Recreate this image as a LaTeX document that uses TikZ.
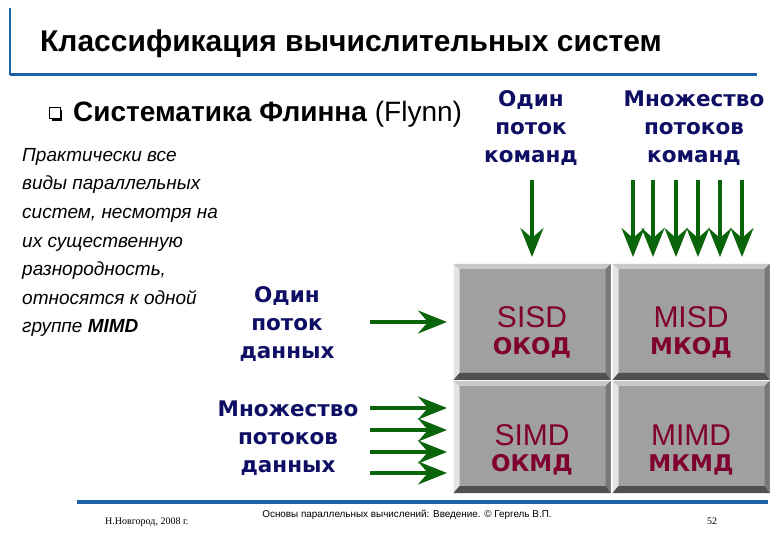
\documentclass[tikz,border=0pt]{standalone}
\usepackage{fontspec}
\setmainfont{Liberation Sans}
\newfontfamily\widefont{DejaVu Sans}
\newfontfamily\seriffont{Liberation Serif}
\usetikzlibrary{arrows.meta}
\definecolor{navy}{RGB}{14,14,100}
\definecolor{arrgreen}{RGB}{10,100,10}
\definecolor{cellfill}{RGB}{160,160,160}
\definecolor{bevtop}{RGB}{200,200,200}
\definecolor{bevleft}{RGB}{228,228,228}
\definecolor{bevright}{RGB}{120,120,120}
\definecolor{bevbot}{RGB}{80,80,80}
\definecolor{cellred}{RGB}{128,0,48}
\definecolor{lineblue}{RGB}{28,98,168}
\tikzset{
  cell/.style={rectangle, fill=cellfill, inner sep=0pt, minimum width=157pt,
    path picture={
      \coordinate (pNW) at (path picture bounding box.north west);
      \coordinate (pSE) at (path picture bounding box.south east);
      \coordinate (pNE) at (path picture bounding box.north east);
      \coordinate (pSW) at (path picture bounding box.south west);
      \fill[bevtop] (pNW) -- (pNE) -- ([xshift=-5pt,yshift=-5pt]pNE) -- ([xshift=6pt,yshift=-5pt]pNW) -- cycle;
      \fill[bevleft] (pNW) -- ([xshift=6pt,yshift=-5pt]pNW) -- ([xshift=6pt,yshift=7pt]pSW) -- (pSW) -- cycle;
      \fill[bevright] (pNE) -- (pSE) -- ([xshift=-5pt,yshift=7pt]pSE) -- ([xshift=-5pt,yshift=-5pt]pNE) -- cycle;
      \fill[bevbot] (pSW) -- (pSE) -- ([xshift=-5pt,yshift=7pt]pSE) -- ([xshift=6pt,yshift=7pt]pSW) -- cycle;
    }},
  celltop/.style={anchor=base, inner sep=0pt, text=cellred, font=\fontsize{30}{32}\selectfont},
  cellbot/.style={anchor=base, inner sep=0pt, text=cellred, font=\widefont\bfseries\fontsize{23}{25}\selectfont},
  navylabel/.style={anchor=base, inner sep=0pt, align=center, text=navy, font=\widefont\bfseries\fontsize{21.5}{28}\selectfont},
  flow/.style={draw=arrgreen, line width=4pt, -{Stealth[length=29pt, width=23pt, inset=10pt, fill=arrgreen]}},
  rule/.style={draw=lineblue, line width=3pt},
}
\begin{document}
\begin{tikzpicture}[x=1pt, y=-1pt]
\useasboundingbox[fill=white] (0,0) rectangle (780,540);

% header rules
\coordinate (hl0) at (10,8);
\coordinate (hl1) at (10,75);
\coordinate (hl2) at (757,75);
\draw[rule, line width=2.5pt] (hl0) -- (hl1);
\draw[rule] (hl1) -- (hl2);
\node[anchor=base west, inner sep=0pt, font=\bfseries\fontsize{30}{32}\selectfont] (title) at (40,52) {Классификация вычислительных систем};

% bullet
\coordinate (cb) at (55,113);
\fill[black] ([xshift=-3pt,yshift=-8pt]cb) rectangle ([xshift=7pt,yshift=3pt]cb);
\draw[black, fill=white, line width=1pt] ([xshift=-5.5pt,yshift=-5.5pt]cb) rectangle ([xshift=5.5pt,yshift=5.5pt]cb);
\node[anchor=base west, inner sep=0pt, font=\fontsize{28}{30}\selectfont] (flynn) at (73,122) {\textbf{Систематика Флинна} (Flynn)};

% italic text
\node[anchor=base west, inner sep=0pt, align=left, font=\itshape\fontsize{19}{28.6}\selectfont] (note) at (22,333)
 {Практически все\\виды параллельных\\систем, несмотря на\\их существенную\\разнородность,\\относятся к одной\\группе \textbf{MIMD}};

% labels
\node[navylabel] (oneI) at (531,163) {Один\\поток\\команд};
\node[navylabel] (manyI) at (694,163) {Множество\\потоков\\команд};
\node[navylabel] (oneD) at (287,359) {Один\\поток\\данных};
\node[navylabel] (manyD) at (288,472) {Множество\\потоков\\данных};

% cells
\node[cell, minimum height=116pt] (sisd) at (532,322) {};
\node[cell, minimum height=116pt] (misd) at (691,322) {};
\node[cell, minimum height=112pt] (simd) at (532,437) {};
\node[cell, minimum height=112pt] (mimd) at (691,437) {};
\node[celltop] (sisdA) at (532,328) {SISD};
\node[cellbot] (sisdB) at (532,355) {ОКОД};
\node[celltop] (misdA) at (691,328) {MISD};
\node[cellbot] (misdB) at (691,355) {МКОД};
\node[celltop] (simdA) at (532,445) {SIMD};
\node[cellbot] (simdB) at (532,471) {ОКМД};
\node[celltop] (mimdA) at (691,445) {MIMD};
\node[cellbot] (mimdB) at (691,471) {МКМД};

% vertical arrows
\foreach \i/\x in {0/532,1/633,2/653,3/676,4/698,5/720,6/742}{
  \coordinate (vs\i) at (\x,180);
  \coordinate (ve\i) at (\x,257);
  \draw[flow] (vs\i) -- (ve\i);
}
% horizontal arrows
\foreach \i/\y in {0/322,1/408,2/430,3/452,4/473}{
  \coordinate (hs\i) at (370,\y);
  \coordinate (he\i) at (447,\y);
  \draw[flow] (hs\i) -- (he\i);
}

% footer
\coordinate (fl0) at (77,502);
\coordinate (fl1) at (768,502);
\draw[rule, line width=3.5pt] (fl0) -- (fl1);
\node[anchor=base west, inner sep=0pt, font=\seriffont\fontsize{10}{11}\selectfont] (city) at (105,524) {Н.Новгород, 2008 г.};
\node[anchor=base, inner sep=0pt, font=\fontsize{9.9}{11}\selectfont] (course) at (407,517) {Основы параллельных вычислений: Введение. © Гергель В.П.};
\node[anchor=base, inner sep=0pt, font=\seriffont\fontsize{10}{11}\selectfont] (page) at (712,524) {52};
\end{tikzpicture}
\end{document}
